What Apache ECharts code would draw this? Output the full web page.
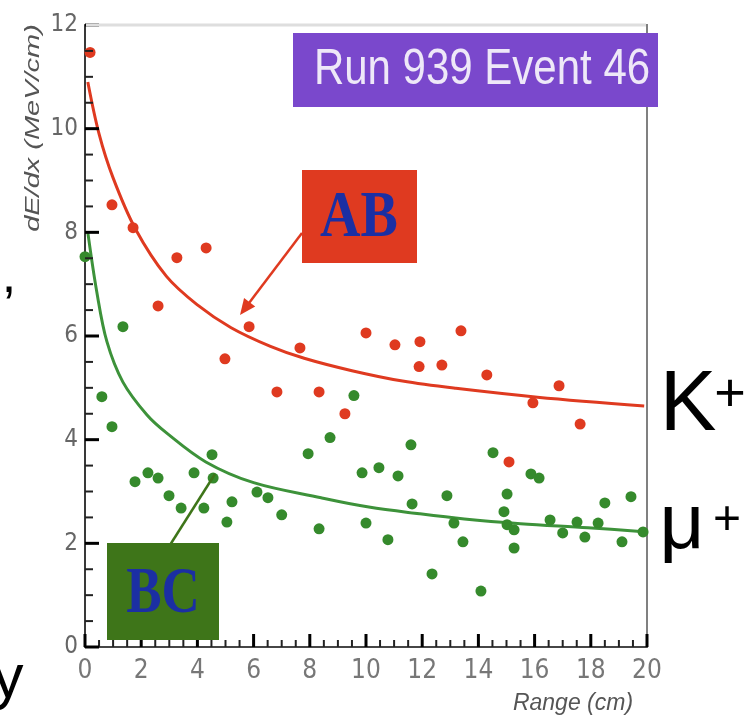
<!DOCTYPE html>
<html><head><meta charset="utf-8">
<script src="https://cdn.jsdelivr.net/npm/echarts@6/dist/echarts.min.js"></script>
<style>html,body{margin:0;padding:0;background:#fff}#c{width:747px;height:721px}</style>
</head><body><div id="c"></div>
<script>
// AB (kaon candidate) measured points: range (cm), dE/dx (MeV/cm)
const redX = [0.18,0.96,1.71,2.6,3.27,4.31,4.98,5.84,6.83,7.65,8.33,9.25,10.0,11.03,11.92,11.89,12.7,13.38,14.3,15.09,15.94,16.87,17.62];
const redY = [11.47,8.53,8.09,6.58,7.51,7.70,5.56,6.18,4.92,5.77,4.92,4.50,6.06,5.83,5.89,5.41,5.44,6.10,5.25,3.57,4.71,5.04,4.30];
// BC (muon candidate) measured points
const greenX = [0.0,1.35,0.6,0.96,1.78,2.24,2.6,2.99,3.42,3.88,4.23,4.52,4.56,5.23,5.05,6.12,6.51,7.0,8.33,7.94,8.72,9.57,9.86,10.0,10.46,11.14,10.78,11.6,11.64,12.88,12.35,13.13,13.45,14.09,14.52,15.02,14.91,15.02,15.27,15.27,15.87,16.16,16.55,17.0,17.51,17.79,18.26,18.5,19.11,19.43,19.86];
const greenY = [7.53,6.18,4.83,4.25,3.19,3.36,3.26,2.92,2.68,3.36,2.68,3.71,3.26,2.80,2.41,2.99,2.88,2.55,2.28,3.73,4.04,4.85,3.36,2.39,3.46,3.30,2.07,3.90,2.76,2.92,1.41,2.39,2.03,1.08,3.75,2.95,2.61,2.36,2.26,1.91,3.34,3.26,2.45,2.20,2.41,2.12,2.39,2.78,2.03,2.90,2.22];
// fitted curves
const redFitX = [0.1,0.5,1.0,1.8,2.9,4.0,5.2,6.6,7.8,9.5,11.3,13.2,16.1,19.9];
const redFitY = [10.9,9.9,9.05,8.06,7.15,6.6,6.16,5.8,5.57,5.33,5.13,4.99,4.82,4.65];
const greenFitX = [0.1,0.42,0.78,1.35,2.2,2.9,4.3,6.0,8.4,10.1,11.9,13.5,15.5,17.9,20];
const greenFitY = [8.0,6.85,5.89,5.11,4.48,4.13,3.57,3.17,2.88,2.70,2.57,2.47,2.38,2.30,2.22];
// axis tick values (major) and minor subdivisions
const xTickValues = [0,2,4,6,8,10,12,14,16,18,20];
const yTickValues = [0,2,4,6,8,10,12];
const minorDivisions = 4;

const zip = (a, b) => a.map((v, i) => [v, b[i]]);
const RED = '#DF3A20', GREEN = '#358A2C', GREENLINE = '#3D923A', BOXGREEN = '#3E7519';
const NARROW = '"Liberation Sans Narrow","DejaVu Sans Condensed","Liberation Sans",sans-serif';

function minorOf(vals) {
  const out = [];
  for (let i = 0; i < vals.length - 1; i++) {
    const step = (vals[i + 1] - vals[i]) / minorDivisions;
    for (let k = 1; k < minorDivisions; k++) out.push(vals[i] + k * step);
  }
  return out;
}
const xMinor = minorOf(xTickValues), yMinor = minorOf(yTickValues);

function tickSeries(data, size, offset, color) {
  return { type: 'scatter', silent: true, clip: false, z: 6, symbol: 'rect', symbolSize: size, symbolOffset: offset,
           data: data, itemStyle: { color: color, opacity: 1 }, emphasis: { disabled: true } };
}

function arrowHead(x1, y1, x2, y2, len, half) {
  const a = Math.atan2(y2 - y1, x2 - x1);
  const bx = x2 - len * Math.cos(a), by = y2 - len * Math.sin(a);
  return [[x2, y2], [bx + half * Math.sin(a), by - half * Math.cos(a)], [bx - half * Math.sin(a), by + half * Math.cos(a)]];
}
function txt(x, y, text, font, fill, extra) {
  return Object.assign({
    type: 'text', x: x, y: y, z: 100,
    style: { text: text, font: font, fill: fill, align: 'center', textAlign: 'center', verticalAlign: 'middle', textVerticalAlign: 'middle' }
  }, extra || {});
}

const chart = echarts.init(document.getElementById('c'), null, { renderer: 'canvas' });
chart.setOption({
  animation: false,
  backgroundColor: '#fff',
  grid: { left: 85, right: 100, top: 25, bottom: 74, containLabel: false, show: true, borderColor: '#808080', borderWidth: 2 },
  xAxis: {
    type: 'value', min: 0, max: 20, interval: 2, position: 'bottom',
    axisLine: { show: true, onZero: false, lineStyle: { color: '#333', width: 1.5 } },
    axisTick: { show: false }, minorTick: { show: false },
    axisLabel: { margin: 11, fontSize: 26, color: '#777', fontFamily: NARROW },
    splitLine: { show: false }
  },
  yAxis: {
    type: 'value', min: 0, max: 12, interval: 2, position: 'left',
    axisLine: { show: true, onZero: false, lineStyle: { color: '#222', width: 1.5 } },
    axisTick: { show: false }, minorTick: { show: false },
    axisLabel: { margin: 7, fontSize: 24, color: '#666', fontFamily: NARROW },
    splitLine: { show: false }
  },
  series: [
    { type: 'line', data: zip(redFitX, redFitY), smooth: 0.35, showSymbol: false, lineStyle: { color: RED, width: 3 }, z: 2 },
    { type: 'line', data: zip(greenFitX, greenFitY), smooth: 0.35, showSymbol: false, lineStyle: { color: GREENLINE, width: 3 }, z: 2 },
    { type: 'scatter', data: zip(redX, redY), symbol: 'circle', symbolSize: 11, itemStyle: { color: RED, opacity: 1 }, z: 3 },
    { type: 'scatter', data: zip(greenX, greenY), symbol: 'circle', symbolSize: 11, itemStyle: { color: GREEN, opacity: 1 }, z: 3 },
    // inward axis ticks drawn as marks on the axes
    tickSeries(xTickValues.map(v => [v, 0]), [3, 13], [0, -6.5], '#000'),
    tickSeries(xMinor.map(v => [v, 0]), [2, 7], [0, -3.5], '#222'),
    tickSeries(yTickValues.map(v => [0, v]), [14, 3], [7, 0], '#000'),
    tickSeries(yMinor.map(v => [0, v]), [8, 2], [4, 0], '#222')
  ],
  graphic: [
    // lighter top frame edge
    { type: 'line', z: 98, shape: { x1: 86, y1: 25, x2: 646, y2: 25 }, style: { stroke: '#dedede', lineWidth: 3 } },
    { type: 'rect', x: 293, y: 33, z: 99, shape: { width: 365, height: 74 }, style: { fill: '#7A48CC' } },
    txt(482, 70, 'Run 939 Event 46', '42px "Liberation Sans", Arial, sans-serif', '#EEE8F8', { scaleY: 1.2 }),
    { type: 'line', z: 99, shape: { x1: 302, y1: 233, x2: 246, y2: 307 }, style: { stroke: RED, lineWidth: 2.5 } },
    { type: 'polygon', z: 99, shape: { points: arrowHead(302, 233, 240, 315, 16, 7) }, style: { fill: RED } },
    { type: 'rect', x: 302, y: 170, z: 99, shape: { width: 115, height: 93 }, style: { fill: RED } },
    txt(359, 219, 'AB', 'bold 56px "Liberation Serif", "Times New Roman", serif', '#1B2FA3', { scaleY: 1.18 }),
    { type: 'line', z: 99, shape: { x1: 170, y1: 545, x2: 215, y2: 474 }, style: { stroke: BOXGREEN, lineWidth: 2.5 } },
    { type: 'rect', x: 107, y: 543, z: 99, shape: { width: 112, height: 97 }, style: { fill: BOXGREEN } },
    txt(163, 595, 'BC', 'bold 53px "Liberation Serif", "Times New Roman", serif', '#1B2FA3', { scaleY: 1.22 }),
    txt(33, 128, 'dE/dx (MeV/cm)', 'italic 21px "Liberation Sans", Arial, sans-serif', '#555', { rotation: Math.PI / 2, scaleX: 1.38 }),
    txt(573, 704, 'Range (cm)', 'italic 23px "Liberation Sans", Arial, sans-serif', '#555'),
    txt(688, 407, 'K', '85px "Liberation Sans", Arial, sans-serif', '#000'),
    txt(730, 396, '+', '54px "Liberation Sans", Arial, sans-serif', '#000'),
    txt(682, 526, 'μ', '78px "Liberation Sans", Arial, sans-serif', '#000'),
    txt(727, 521, '+', '48px "Liberation Sans", Arial, sans-serif', '#000'),
    txt(8, 680, 'y', '62px "Liberation Sans", Arial, sans-serif', '#000'),
    txt(9, 278, ',', '52px "Liberation Sans", Arial, sans-serif', '#000')
  ]
});
</script>
</body></html>
